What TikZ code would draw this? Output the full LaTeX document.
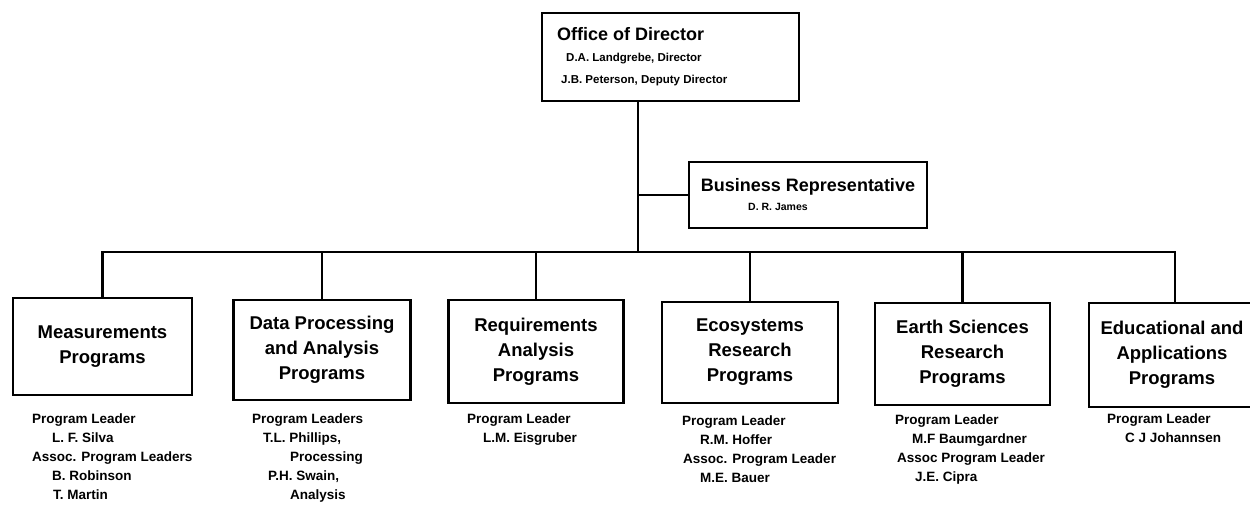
\documentclass[tikz,border=0pt]{standalone}
\usepackage{fontspec}
\setmainfont{Liberation Sans}
\begin{document}
\begin{tikzpicture}[x=1pt,y=-1pt,
  every node/.style={font=\bfseries},
  box/.style={draw,line width=2.3pt,inner sep=0pt,align=center},
  progbox/.style={box,font=\bfseries\fontsize{18.5}{25}\selectfont},
  leaders/.style={anchor=north west,inner sep=0pt,align=left,font=\bfseries\fontsize{13.5}{19}\selectfont},
  conn/.style={line width=2.3pt,line join=miter}]
\clip (0,0) rectangle (1250,504);
\fill[white] (0,0) rectangle (1250,504);
% top boxes
\node[box,minimum width=257pt,minimum height=88pt] (O) at (670.5,57) {};
\node[anchor=north west,inner sep=0pt,align=left,
  font=\bfseries\fontsize{11.5}{21.5}\selectfont] (OT) at (557,27)
  {{\fontsize{18}{21.5}\selectfont Office of Director}\\
   \hspace*{9pt}D.A. Landgrebe, Director\\
   \hspace*{4pt}J.B. Peterson, Deputy Director};
\node[box,minimum width=238pt,minimum height=66pt,
  font=\bfseries\fontsize{18}{19}\selectfont] (B) at (808,195)
  {Business Representative\\{\fontsize{10.5}{19}\selectfont D. R. James\hspace*{60pt}}};
% program boxes
\node[progbox,minimum width=179pt,minimum height=97pt] (M) at (102.5,346.5) {Measurements\\Programs};
\node[progbox,minimum width=177pt,minimum height=100pt] (D) at (322,350) {Data Processing\\and Analysis\\Programs};
\node[progbox,minimum width=175pt,minimum height=103pt] (R) at (536,351.5) {Requirements\\Analysis\\Programs};
\node[progbox,minimum width=176pt,minimum height=101pt] (E) at (750,352.5) {Ecosystems\\Research\\Programs};
\node[progbox,minimum width=175pt,minimum height=102pt] (ES) at (962.5,354) {Earth Sciences\\Research\\Programs};
\node[progbox,minimum width=172pt,minimum height=104pt] (Ed) at (1175,355) {\hspace*{-6pt}Educational and\\\hspace*{-6pt}Applications\\\hspace*{-6pt}Programs};
% connectors
\coordinate (T) at (638,252);
\draw[conn] (O.south -| T) -- (T);
\draw[conn] (B.west) -- (B.west -| T);
\draw[conn] (M.north) |- (Ed.north |- T) -- (Ed.north);
\foreach \n in {D,R,E,ES}{\draw[conn] (\n.north) -- (\n.north |- T);}
% leaders
\node[leaders] (LM) at (32,414) {Program Leader\\\hspace*{20pt}L. F. Silva\\Assoc. Program Leaders\\\hspace*{20pt}B. Robinson\\\hspace*{21pt}T. Martin};
\node[leaders] (LD) at (252,414) {Program Leaders\\\hspace*{11pt}T.L. Phillips,\\\hspace*{38pt}Processing\\\hspace*{16pt}P.H. Swain,\\\hspace*{38pt}Analysis};
\node[leaders] (LR) at (467,414) {Program Leader\\\hspace*{16pt}L.M. Eisgruber};
\node[leaders] (LE) at (682,416) {Program Leader\\\hspace*{18pt}R.M. Hoffer\\\hspace*{1pt}Assoc. Program Leader\\\hspace*{18pt}M.E. Bauer};
\node[leaders] (LES) at (895,415) {Program Leader\\\hspace*{17pt}M.F Baumgardner\\\hspace*{2pt}Assoc Program Leader\\\hspace*{20pt}J.E. Cipra};
\node[leaders] (LEd) at (1107,414) {Program Leader\\\hspace*{18pt}C J Johannsen};
\end{tikzpicture}
\end{document}
